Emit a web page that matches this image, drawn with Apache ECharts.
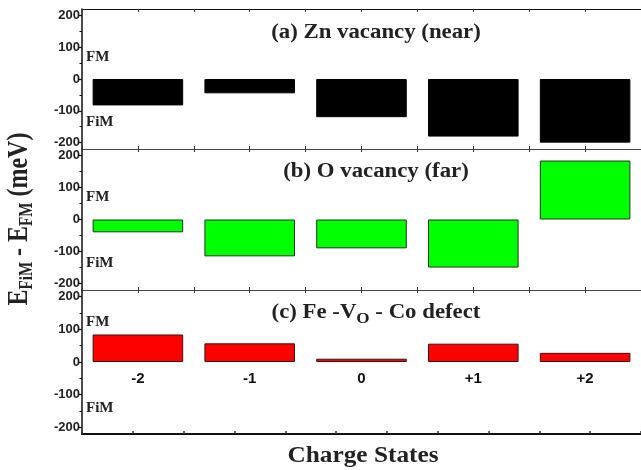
<!DOCTYPE html>
<html><head><meta charset="utf-8">
<script src="https://cdn.jsdelivr.net/npm/echarts@6/dist/echarts.min.js"></script>
<style>html,body{margin:0;padding:0;background:#fff}#c{width:641px;height:470px}</style>
</head><body><div id="c"></div>
<script>
const categories = ['-2', '-1', '0', '+1', '+2'];
const znVacancyNear = [-83, -45, -120, -181, -200];
const oVacancyFar = [-40, -115, -90, -150, 184];
const feVoCoDefect = [84, 57, 10, 56, 28];
const yTickValues = [-200, -100, 0, 100, 200];
const yMinorTickValues = [-150, -50, 50, 150];
const panelTitles = ['(a) Zn vacancy (near)', '(b) O vacancy (far)', '(c) Fe -V{sub|O} - Co defect'];
const panelData = [znVacancyNear, oVacancyFar, feVoCoDefect];
const barColors = ['#000000', '#00ff00', '#ff0000'];
const barBorders = ['#000000', '#1a3a1a', '#3a1010'];

const serif = '"Liberation Serif", "Times New Roman", serif';
const sans = '"Liberation Sans", Arial, sans-serif';
const tops = [9, 149, 290];
const heights = [140, 141, 144];
const grid = [], xAxis = [], yAxis = [], series = [], graphic = [];

for (let i = 0; i < 3; i++) {
  grid.push({left: 82, top: tops[i], width: 563, height: heights[i], show: false});
  const catIdx = xAxis.length;
  xAxis.push({
    type: 'category', gridIndex: i, data: categories, position: 'bottom',
    offset: -heights[i] / 2,
    axisLine: {show: false, onZero: false}, axisTick: {show: false},
    axisLabel: {show: i === 2, fontFamily: sans, fontWeight: 'bold', fontSize: 15, color: '#111', margin: 9},
    splitLine: {show: false}
  });
  xAxis.push({
    type: 'value', gridIndex: i, min: 0, max: 10, interval: 1, position: 'top',
    axisLine: {show: true, onZero: false, lineStyle: {color: i === 0 ? '#111' : '#444', width: 1}},
    axisTick: {show: true, inside: true, length: 3, lineStyle: {color: '#333'}},
    axisLabel: {show: false}, splitLine: {show: false}
  });
  xAxis.push({
    type: 'value', gridIndex: i, min: 0, max: i === 2 ? 11 : 10, interval: 1, position: 'bottom',
    axisLine: {show: true, onZero: false, lineStyle: {color: i === 2 ? '#111' : '#444', width: i === 2 ? 2 : 1}},
    axisTick: {show: true, inside: true, length: 3, lineStyle: {color: '#333', width: i === 2 ? 1.5 : 1}},
    axisLabel: {show: false}, splitLine: {show: false}
  });
  const yIdx = yAxis.length;
  yAxis.push({
    type: 'value', gridIndex: i, min: -220, max: 220, position: 'left',
    axisLine: {show: true, onZero: false, lineStyle: {color: '#111', width: 1.5}},
    axisTick: {show: true, length: 4, customValues: yTickValues, lineStyle: {color: '#111', width: 1.2}},
    axisLabel: {show: true, customValues: yTickValues, fontFamily: sans, fontWeight: 'bold', fontSize: 13, color: '#222', margin: 2},
    splitLine: {show: false}
  });
  yAxis.push({
    type: 'value', gridIndex: i, min: -220, max: 220, position: 'left',
    axisLine: {show: false, onZero: false},
    axisTick: {show: true, length: 2.5, customValues: yMinorTickValues, lineStyle: {color: '#111', width: 1}},
    axisLabel: {show: false}, splitLine: {show: false}
  });
  series.push({
    type: 'bar', xAxisIndex: catIdx, yAxisIndex: yIdx, data: panelData[i], barWidth: '81%',
    itemStyle: {color: barColors[i], borderColor: barBorders[i], borderWidth: 1},
    silent: true, animation: false
  });
}

const titleY = [33, 172, 313];
for (let i = 0; i < 3; i++) {
  graphic.push({
    type: 'text', x: 376, y: titleY[i], scaleX: 1.14,
    style: {
      text: panelTitles[i], x: 0, y: 0, align: 'center', verticalAlign: 'middle',
      font: 'bold 20px ' + serif, fill: '#222',
      rich: {sub: {font: 'bold 15px ' + serif, fill: '#222', verticalAlign: 'bottom', padding: [12, 0, 0, 0]}}
    }
  });
}
const fmY = [57, 197, 322];
const fimY = [122, 263, 408];
for (let i = 0; i < 3; i++) {
  graphic.push({type: 'text', x: 86, y: fmY[i], style: {text: 'FM', x: 0, y: 0, align: 'left', verticalAlign: 'middle', font: 'bold 15px ' + serif, fill: '#222'}});
  graphic.push({type: 'text', x: 86, y: fimY[i], style: {text: 'FiM', x: 0, y: 0, align: 'left', verticalAlign: 'middle', font: 'bold 15px ' + serif, fill: '#222'}});
}
graphic.push({
  type: 'text', x: 20, y: 219, rotation: Math.PI / 2, scaleY: 1.2,
  style: {
    text: 'E{sub|FiM} - E{sub|FM} (meV)', x: 0, y: 0, align: 'center', verticalAlign: 'middle',
    font: 'bold 24px ' + serif, fill: '#222',
    rich: {sub: {font: 'bold 15px ' + serif, fill: '#222', verticalAlign: 'bottom', padding: [12, 0, 0, 0]}}
  }
});
graphic.push({
  type: 'text', x: 363, y: 456, scaleX: 1.1,
  style: {text: 'Charge States', x: 0, y: 0, align: 'center', verticalAlign: 'middle', font: 'bold 23px ' + serif, fill: '#222'}
});

const chart = echarts.init(document.getElementById('c'), null, {renderer: 'canvas'});
chart.setOption({animation: false, grid, xAxis, yAxis, series, graphic});
</script></body></html>
